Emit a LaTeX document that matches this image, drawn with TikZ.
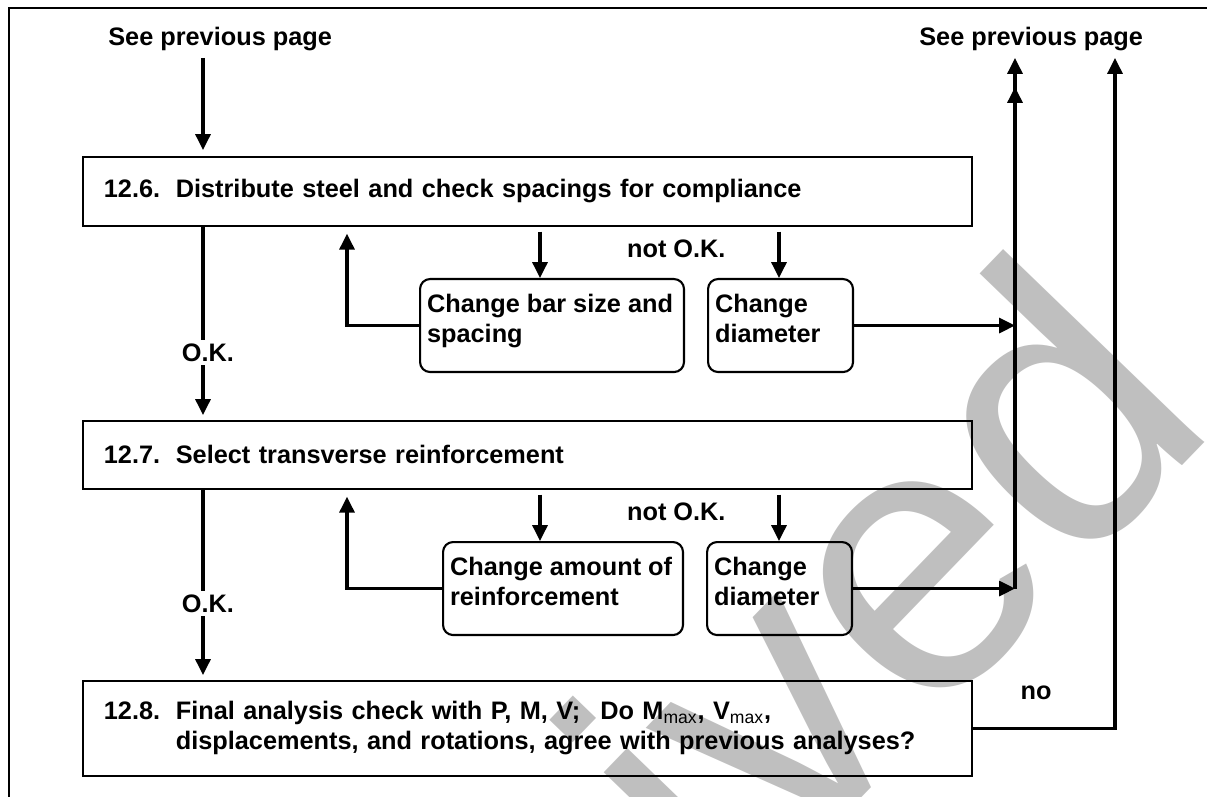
\documentclass[tikz,border=0pt]{standalone}
\usepackage{fontspec}
\setmainfont{Liberation Sans}
\usetikzlibrary{arrows.meta,calc}

\newcommand{\stepno}[1]{\makebox[1.44cm][l]{#1}}
\newcommand{\chgtext}[2]{\parbox[t][1.26cm][t]{#1}{\raggedright #2}}

\begin{document}
\begin{tikzpicture}[x=0.02cm, y=-0.02cm,
    font=\fontsize{14.4}{17}\selectfont\bfseries,
    flow/.style={-{Triangle[length=9pt,width=8.5pt]}, line width=1.8pt},
    stage/.style={draw, line width=1pt, anchor=north west, align=left,
        inner xsep=0.42cm, inner ysep=0pt, text width=16.94cm},
    change/.style={draw, line width=1.2pt, rounded corners=0.2cm,
        anchor=north west, inner xsep=0.14cm, inner ysep=0.3cm},
    ok/.style={fill=white, inner sep=2pt, xshift=0.1cm},
    stamp/.style={anchor=base east, rotate=46, inner sep=0pt, text=black!25,
        font=\fontsize{219}{219}\selectfont\mdseries}]

    \useasboundingbox (0,0) rectangle (1207,797);

    % stamp, behind the chart
    \begin{scope}
        \clip (0,0) rectangle (1207,797);
        \node[stamp] (wm) at (1223,424) {Archived};
    \end{scope}

    \draw[line width=1.6pt] (9,797) -- (9,8) -- (1207,8);

    \coordinate (xL) at (203,0);
    \coordinate (xU) at (347,0);
    \coordinate (xA) at (540,0);
    \coordinate (xB) at (779,0);
    \coordinate (inL) at (203,58);
    \coordinate (outA) at (1015,58);
    \coordinate (outB) at (1115,58);

    \node[inner sep=0pt, anchor=base west] (prevL) at (108,46) {See previous page};
    \node[inner sep=0pt, anchor=base west] (prevR) at (919,46) {See previous page};

    \node[stage, minimum height=1.38cm] (S6) at (82,156)
        {\stepno{12.6.}Distribute steel and check spacings for compliance};
    \node[stage, minimum height=1.36cm] (S7) at (82,420)
        {\stepno{12.7.}Select transverse reinforcement};
    \node[stage, minimum height=1.9cm] (S8) at (82,680)
        {\stepno{12.8.}Final analysis check with P, M, V;\hspace{0.4cm}Do M\textsubscript{\mdseries max}, V\textsubscript{\mdseries max},\\
         \hspace*{1.44cm}displacements, and rotations, agree with previous analyses?};

    \node[change] (C6a) at (419,278) {\chgtext{5cm}{Change bar size and\\spacing}};
    \node[change] (C6b) at (707,278) {\chgtext{2.62cm}{Change\\diameter}};
    \node[change] (C7a) at (442,541) {\chgtext{4.52cm}{Change amount of\\reinforcement}};
    \node[change] (C7b) at (706,541) {\chgtext{2.62cm}{Change\\diameter}};

    \draw[flow, shorten >=0.12cm] (inL) -- (inL |- S6.north);
    \draw[flow, shorten >=0.1cm] (S6.south -| xL) -- node[ok, pos=0.65] {O.K.} (S7.north -| xL);
    \draw[flow, shorten >=0.1cm] (S7.south -| xL) -- node[ok, pos=0.6] {O.K.} (S8.north -| xL);

    \foreach \s/\a/\b in {S6/C6a/C6b, S7/C7a/C7b} {
        \draw[flow, shorten >=0.14cm] (\a.west) -| (xU |- \s.south);
        \draw[flow, shorten <=0.1cm] (\s.south -| xA) -- (\a.north -| xA);
        \draw[flow, shorten <=0.1cm] (\s.south -| xB) -- (\b.north -| xB);
        \draw[flow] (\b.east) -- (\b.east -| outA);
        \node (not\s) at ($(\s.south)+(149,22)$) {not O.K.};
    }

    \draw[flow] (C7b.east -| outA) -- (outA);
    \draw[flow] (C6b.east -| outA) -- ($(outA)+(0,29)$);

    \draw[flow] (S8.east) -| (outB);
    \node (lblNo) at (1036,693) {no};
\end{tikzpicture}
\end{document}
